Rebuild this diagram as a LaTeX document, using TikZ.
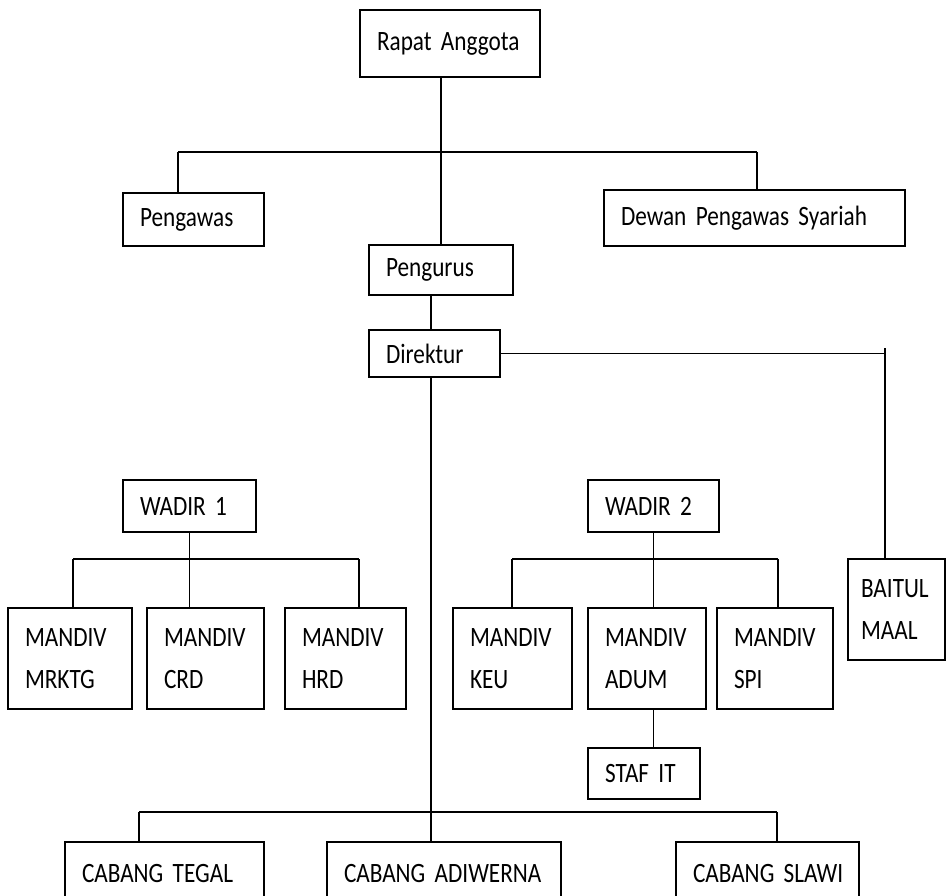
\documentclass[tikz,border=0pt]{standalone}
\usepackage{fontspec}
\setmainfont{Carlito}[FakeStretch=0.83]
\usepackage{tikz}

\newcommand\boxfont{\fontsize{28}{42}\selectfont\spaceskip=4.5pt\relax\hyphenpenalty=10000\relax}

\begin{document}
\begin{tikzpicture}[x=1pt,y=-1pt,
  box/.style={draw,line width=1.5pt,inner xsep=17pt,inner ysep=0pt,align=left,
    font=\boxfont},
  link/.style={line width=1.3pt}]

\useasboundingbox (0,0) rectangle (951,895);
\clip (0,0) rectangle (951,895);

\node(rapat) at (450,43.5)[box,text width=146pt,minimum height=67pt]{Rapat~Anggota};
\node(pengawas) at (193.5,219.5)[box,text width=107pt,minimum height=53pt]{Pengawas};
\node(dewan) at (754.5,218)[box,text width=267pt,minimum height=56pt]{Dewan~Pengawas~Syariah};
\node(pengurus) at (441,270)[box,text width=110pt,minimum height=50pt]{Pengurus};
\node(direktur) at (434.5,353.5)[box,text width=97pt,minimum height=47pt]{Direktur};

\node(wadirA) at (189.5,506)[box,text width=99pt,minimum height=52pt]{WADIR~1};
\node(wadirB) at (653.5,506)[box,text width=97pt,minimum height=52pt]{WADIR~2};

\node(mrktg) at (70,658.5)[box,text width=90pt,minimum height=101pt]{MANDIV\\MRKTG};
\node(crd) at (205.5,658.5)[box,text width=83pt,minimum height=101pt]{MANDIV\\CRD};
\node(hrd) at (345.5,658.5)[box,text width=87pt,minimum height=101pt]{MANDIV\\HRD};
\node(keu) at (512.5,658.5)[box,text width=85pt,minimum height=101pt]{MANDIV\\KEU};
\node(adum) at (647,658.5)[box,text width=84pt,minimum height=101pt]{MANDIV\\ADUM};
\node(spi) at (775,658.5)[box,text width=82pt,minimum height=101pt]{MANDIV\\SPI};
\node(baitul) at (896.5,609.5)[box,inner xsep=13pt,text width=71pt,minimum height=101pt]{BAITUL\\MAAL};
\node(stafit) at (644,773.5)[box,text width=78pt,minimum height=51pt]{STAF~IT};

\node(tegal) at (164.5,873)[box,text width=165pt,minimum height=62pt]{CABANG~TEGAL};
\node(adiwerna) at (444,873)[box,text width=200pt,minimum height=62pt]{CABANG~ADIWERNA};
\node(slawi) at (767.5,873)[box,text width=149pt,minimum height=62pt]{CABANG~SLAWI};

\coordinate(busL) at (178,152);
\coordinate(busR) at (757,152);
\coordinate(spine) at (431,812);
\coordinate(cabL) at (139,812);
\coordinate(cabR) at (777,812);
\coordinate(bmTop) at (885,348);
\coordinate(busA1) at (73,559);
\coordinate(busA2) at (359,559);
\coordinate(busB1) at (512,559);
\coordinate(busB2) at (778,559);

\draw[link] (pengurus.north) -- (pengurus.north |- rapat.south);
\draw[link] (busL) -- (busR);
\draw[link] (busL) -- (busL |- pengawas.north);
\draw[link] (busR) -- (busR |- dewan.north);
\draw[link] (spine |- pengurus.south) -- (spine |- direktur.north);
\draw[link] (spine |- direktur.south) -- (spine);
\draw[link] (direktur.east) -- (direktur.east -| bmTop);
\draw[link] (bmTop) -- (bmTop |- baitul.north);

\draw[link] (wadirA.south) -- (wadirA.south |- crd.north);
\draw[link] (busA1) -- (busA2);
\draw[link] (busA1) -- (busA1 |- mrktg.north);
\draw[link] (busA2) -- (busA2 |- hrd.north);
\draw[link] (wadirB.south) -- (wadirB.south |- adum.north);
\draw[link] (busB1) -- (busB2);
\draw[link] (busB1) -- (busB1 |- keu.north);
\draw[link] (busB2) -- (busB2 |- spi.north);
\draw[link] (wadirB.south |- adum.south) -- (wadirB.south |- stafit.north);

\draw[link] (cabL) -- (cabR);
\draw[link] (cabL) -- (cabL |- tegal.north);
\draw[link] (spine) -- (spine |- adiwerna.north);
\draw[link] (cabR) -- (cabR |- slawi.north);

\end{tikzpicture}
\end{document}
